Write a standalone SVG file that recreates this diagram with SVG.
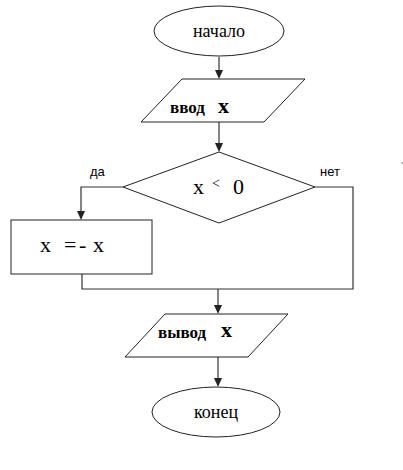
<svg xmlns="http://www.w3.org/2000/svg" width="403" height="470" viewBox="0 0 403 470">
<defs>
<style>
.sh{fill:#fff;stroke:#222;stroke-width:1}
.cn{fill:none;stroke:#333;stroke-width:1.2}
.ah{fill:#222}
.t{font-family:"Liberation Serif","Times New Roman",serif;fill:#000}
.s{font-family:"Liberation Sans",Arial,sans-serif;font-size:13px;fill:#000}
</style>
</defs>
<rect width="403" height="470" fill="#fff"/>
<g id="connectors">
<path class="cn" d="M219,57 V71"/>
<path class="cn" d="M219,122 V144"/>
<path class="cn" d="M123,187 H81 V212"/>
<path class="cn" d="M315,187 H353 V289 H82 V274"/>
<path class="cn" d="M218,289 V306"/>
<path class="cn" d="M218,357 V379"/>
<path class="ah" d="M215,70 L223,70 L219,79 Z"/>
<path class="ah" d="M215,143 L223,143 L219,152 Z"/>
<path class="ah" d="M77,211 L85,211 L81,220 Z"/>
<path class="ah" d="M214,305 L222,305 L218,314 Z"/>
<path class="ah" d="M214,378 L222,378 L218,387 Z"/>
</g>
<g id="start">
<ellipse class="sh" cx="219" cy="31" rx="65" ry="25"/>
<text class="t" x="219" y="37" font-size="18" text-anchor="middle">начало</text>
</g>
<g id="input">
<polygon class="sh" points="182,79 305,79 264,122 141,122"/>
<text class="t" x="170" y="113" font-size="17" font-weight="bold">ввод</text>
<text class="t" x="218" y="113" font-size="22" font-weight="bold">x</text>
</g>
<g id="cond">
<polygon class="sh" points="219,152 315,187 219,223 123,187"/>
<text class="t" x="193" y="194" font-size="22">x</text>
<text class="t" x="212" y="188" font-size="14">&lt;</text>
<text class="t" x="233" y="194" font-size="22">0</text>
</g>
<text class="s" x="90" y="176">да</text>
<text class="s" x="320" y="176">нет</text>
<g id="neg">
<rect class="sh" x="11" y="220" width="141" height="54"/>
<text class="t" x="40" y="252" font-size="22">x</text>
<text class="t" x="64" y="252" font-size="22">=</text>
<text class="t" x="79" y="252" font-size="22">-</text>
<text class="t" x="93" y="252" font-size="22">x</text>
</g>
<g id="output">
<polygon class="sh" points="165,314 288,314 248,357 125,357"/>
<text class="t" x="158" y="338" font-size="17" font-weight="bold">вывод</text>
<text class="t" x="221" y="337" font-size="22" font-weight="bold">x</text>
</g>
<g id="end">
<ellipse class="sh" cx="216" cy="412" rx="64" ry="25"/>
<text class="t" x="216" y="418" font-size="18" text-anchor="middle">конец</text>
</g>
<rect x="401.5" y="162.5" width="1" height="1" fill="#000"/>
</svg>
